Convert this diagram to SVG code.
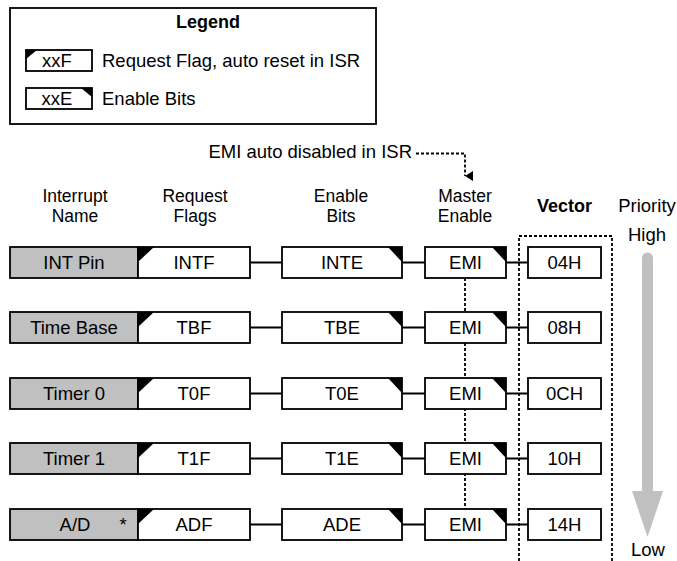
<svg xmlns="http://www.w3.org/2000/svg" width="677" height="561" viewBox="0 0 677 561">
<style>
text{font-family:"Liberation Sans",Arial,sans-serif;font-size:18.5px;fill:#000}
.c{text-anchor:middle}
.h{font-size:17.5px}
.b{font-weight:bold;font-size:18px}
.box{fill:#fff;stroke:#000;stroke-width:1.8}
.name{fill:#c0c0c0;stroke:#000;stroke-width:1.8}
.ln{stroke:#000;stroke-width:1.8;fill:none}
.dot{stroke:#000;stroke-width:1.8;fill:none;stroke-dasharray:3 2}
.tri{fill:#000}
</style>
<defs>
<marker id="ah" markerWidth="10" markerHeight="10" refX="5" refY="8" orient="auto" markerUnits="userSpaceOnUse">
<path d="M0,0 L10,0 L5,8 Z" fill="#000"/>
</marker>
</defs>

<g id="legend">
<rect x="10" y="8" width="366" height="116" fill="#fff" stroke="#000" stroke-width="1.8"/>
<text class="c b" x="208" y="28">Legend</text>
<rect class="box" x="26" y="50" width="66" height="21"/>
<polygon class="tri" points="26,50 37,50 26,59"/>
<text class="c" x="57" y="67">xxF</text>
<text x="102" y="67">Request Flag, auto reset in ISR</text>
<rect class="box" x="26" y="88" width="66" height="21"/>
<polygon class="tri" points="81,88 92,88 92,97"/>
<text class="c" x="57" y="105">xxE</text>
<text x="102" y="105">Enable Bits</text>
</g>

<g id="headers">
<text class="c h" x="75" y="202">Interrupt</text>
<text class="c h" x="75" y="221.5">Name</text>
<text class="c h" x="195" y="202">Request</text>
<text class="c h" x="195" y="221.5">Flags</text>
<text class="c h" x="341" y="202">Enable</text>
<text class="c h" x="341" y="221.5">Bits</text>
<text class="c h" x="465" y="202">Master</text>
<text class="c h" x="465" y="221.5">Enable</text>
<text class="c b" x="564.5" y="212">Vector</text>
<text class="c" x="647" y="212">Priority</text>
<text class="c" x="647" y="241">High</text>
<text class="c" x="648" y="556">Low</text>
<text x="412" y="158" text-anchor="end">EMI auto disabled in ISR</text>
</g>

<g id="priority-arrow">
<path d="M642,491 L642,258 A5.5,5.5 0 0 1 653,258 L653,491 L663,491 L647.5,537 L632,491 Z" fill="#c0c0c0"/>
</g>

<g id="connectors">
<path class="dot" d="M416,153.5 H465 V176" marker-end="url(#ah)"/>
<path class="dot" d="M465,278 V509"/>
<path class="dot" d="M519,561 V236 H612 V561"/>
<g class="ln">
<path d="M250,262.5 H282 M402,262.5 H425 M506,262.5 H528"/>
<path d="M250,327.5 H282 M402,327.5 H425 M506,327.5 H528"/>
<path d="M250,393.5 H282 M402,393.5 H425 M506,393.5 H528"/>
<path d="M250,458.5 H282 M402,458.5 H425 M506,458.5 H528"/>
<path d="M250,524.5 H282 M402,524.5 H425 M506,524.5 H528"/>
</g>
</g>

<g id="row-int">
<g id="int-name"><rect class="name" x="10" y="247" width="128" height="31"/><text class="c" x="74" y="269">INT Pin</text></g>
<g id="intf"><rect class="box" x="138" y="247" width="112" height="31"/><polygon class="tri" points="138,247 154,247 138,262"/><text class="c" x="194" y="269">INTF</text></g>
<g id="inte"><rect class="box" x="282" y="247" width="120" height="31"/><polygon class="tri" points="388,247 402,247 402,262"/><text class="c" x="342" y="269">INTE</text></g>
<g id="emi1"><rect class="box" x="425" y="247" width="81" height="31"/><polygon class="tri" points="492,247 506,247 506,262"/><text class="c" x="465.5" y="269">EMI</text></g>
<g id="v04"><rect class="box" x="528" y="247" width="73" height="31"/><text class="c" x="564.5" y="269">04H</text></g>
</g>

<g id="row-tb">
<g id="tb-name"><rect class="name" x="10" y="312" width="128" height="31"/><text class="c" x="74" y="334">Time Base</text></g>
<g id="tbf"><rect class="box" x="138" y="312" width="112" height="31"/><polygon class="tri" points="138,312 154,312 138,327"/><text class="c" x="194" y="334">TBF</text></g>
<g id="tbe"><rect class="box" x="282" y="312" width="120" height="31"/><polygon class="tri" points="388,312 402,312 402,327"/><text class="c" x="342" y="334">TBE</text></g>
<g id="emi2"><rect class="box" x="425" y="312" width="81" height="31"/><polygon class="tri" points="492,312 506,312 506,327"/><text class="c" x="465.5" y="334">EMI</text></g>
<g id="v08"><rect class="box" x="528" y="312" width="73" height="31"/><text class="c" x="564.5" y="334">08H</text></g>
</g>

<g id="row-t0">
<g id="t0-name"><rect class="name" x="10" y="378" width="128" height="31"/><text class="c" x="74" y="400">Timer 0</text></g>
<g id="t0f"><rect class="box" x="138" y="378" width="112" height="31"/><polygon class="tri" points="138,378 154,378 138,393"/><text class="c" x="194" y="400">T0F</text></g>
<g id="t0e"><rect class="box" x="282" y="378" width="120" height="31"/><polygon class="tri" points="388,378 402,378 402,393"/><text class="c" x="342" y="400">T0E</text></g>
<g id="emi3"><rect class="box" x="425" y="378" width="81" height="31"/><polygon class="tri" points="492,378 506,378 506,393"/><text class="c" x="465.5" y="400">EMI</text></g>
<g id="v0c"><rect class="box" x="528" y="378" width="73" height="31"/><text class="c" x="564.5" y="400">0CH</text></g>
</g>

<g id="row-t1">
<g id="t1-name"><rect class="name" x="10" y="443" width="128" height="31"/><text class="c" x="74" y="465">Timer 1</text></g>
<g id="t1f"><rect class="box" x="138" y="443" width="112" height="31"/><polygon class="tri" points="138,443 154,443 138,458"/><text class="c" x="194" y="465">T1F</text></g>
<g id="t1e"><rect class="box" x="282" y="443" width="120" height="31"/><polygon class="tri" points="388,443 402,443 402,458"/><text class="c" x="342" y="465">T1E</text></g>
<g id="emi4"><rect class="box" x="425" y="443" width="81" height="31"/><polygon class="tri" points="492,443 506,443 506,458"/><text class="c" x="465.5" y="465">EMI</text></g>
<g id="v10"><rect class="box" x="528" y="443" width="73" height="31"/><text class="c" x="564.5" y="465">10H</text></g>
</g>

<g id="row-ad">
<g id="ad-name"><rect class="name" x="10" y="509" width="128" height="31"/><text class="c" x="75" y="531">A/D</text><text class="c" x="123" y="531">*</text></g>
<g id="adf"><rect class="box" x="138" y="509" width="112" height="31"/><polygon class="tri" points="138,509 154,509 138,524"/><text class="c" x="194" y="531">ADF</text></g>
<g id="ade"><rect class="box" x="282" y="509" width="120" height="31"/><polygon class="tri" points="388,509 402,509 402,524"/><text class="c" x="342" y="531">ADE</text></g>
<g id="emi5"><rect class="box" x="425" y="509" width="81" height="31"/><polygon class="tri" points="492,509 506,509 506,524"/><text class="c" x="465.5" y="531">EMI</text></g>
<g id="v14"><rect class="box" x="528" y="509" width="73" height="31"/><text class="c" x="564.5" y="531">14H</text></g>
</g>
</svg>
